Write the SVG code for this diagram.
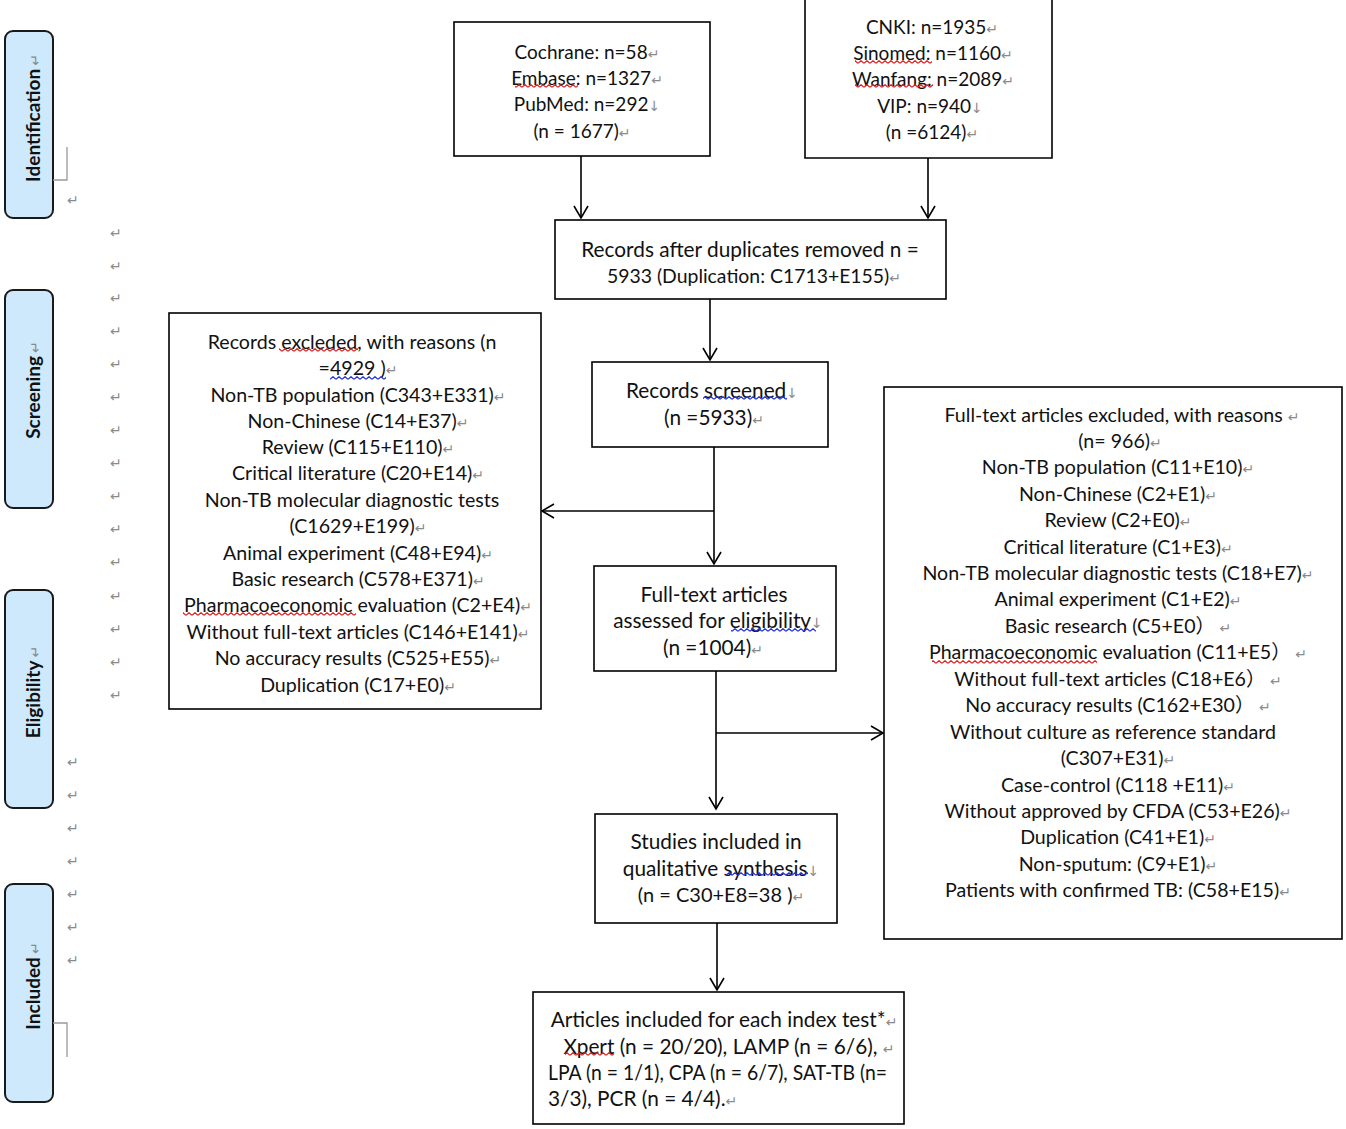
<svg xmlns="http://www.w3.org/2000/svg" width="1346" height="1129" viewBox="0 0 1346 1129">
<style>
.box{fill:#fff;stroke:#000;stroke-width:1.6}
.stage{fill:#cde9fb;stroke:#1a1a1a;stroke-width:2}
.t{font-family:Lato,"Noto Sans","Noto Sans CJK SC",sans-serif;font-size:19.6px;fill:#111;text-anchor:middle}
.tt{font-size:19px}
.tm{font-size:20.8px}
.tl{text-anchor:start}
.st{font-family:Lato,"Noto Sans",sans-serif;font-size:19px;font-weight:bold;fill:#111;text-anchor:middle}
.pm{font-family:"DejaVu Sans",sans-serif;font-size:14px;fill:#8a8a8a;font-weight:normal}
.pmx{font-family:"DejaVu Sans",sans-serif;font-size:14px;fill:#8a8a8a}
.br{fill:none;stroke:#999;stroke-width:1.3}
.con{fill:none;stroke:#000;stroke-width:1.6}
</style>
<defs>
<marker id="ah" markerUnits="userSpaceOnUse" markerWidth="20" markerHeight="20" viewBox="-14 -10 16 20" refX="0" refY="0" orient="auto">
<path d="M-12,-7 L0,0 L-12,7" fill="none" stroke="#000" stroke-width="1.6"/>
</marker>
<pattern id="wr" width="6" height="4" patternUnits="userSpaceOnUse"><path d="M0,3.3 L3,0.7 L6,3.3" fill="none" stroke="#e02020" stroke-width="1.2"/></pattern>
<pattern id="wb" width="6" height="4" patternUnits="userSpaceOnUse"><path d="M0,3.3 L3,0.7 L6,3.3" fill="none" stroke="#2030e0" stroke-width="1.2"/></pattern>
</defs>

<g id="stages">
<g id="stage-identification"><rect class="stage" x="5" y="31" width="48" height="187" rx="8"/><text class="st" transform="translate(40,118) rotate(-90)">Identification<tspan class="pm" dx="3">↵</tspan></text></g>
<g id="stage-screening"><rect class="stage" x="5" y="290" width="48" height="218" rx="8"/><text class="st" transform="translate(40,390) rotate(-90)">Screening<tspan class="pm" dx="3">↵</tspan></text></g>
<g id="stage-eligibility"><rect class="stage" x="5" y="590" width="48" height="218" rx="8"/><text class="st" transform="translate(40,692) rotate(-90)">Eligibility<tspan class="pm" dx="3">↵</tspan></text></g>
<g id="stage-included"><rect class="stage" x="5" y="884" width="48" height="218" rx="8"/><text class="st" transform="translate(40,986) rotate(-90)">Included<tspan class="pm" dx="3">↵</tspan></text></g>
<path class="br" d="M53,180 H67 V147"/>
<path class="br" d="M53,1023 H67 V1057"/>
</g>

<g id="marks">
<text class="pmx" x="67" y="205">↵</text>
<text class="pmx" x="110" y="238">↵</text>
<text class="pmx" x="110" y="271">↵</text>
<text class="pmx" x="110" y="303">↵</text>
<text class="pmx" x="110" y="336">↵</text>
<text class="pmx" x="110" y="369">↵</text>
<text class="pmx" x="110" y="402">↵</text>
<text class="pmx" x="110" y="435">↵</text>
<text class="pmx" x="110" y="468">↵</text>
<text class="pmx" x="110" y="501">↵</text>
<text class="pmx" x="110" y="534">↵</text>
<text class="pmx" x="110" y="567">↵</text>
<text class="pmx" x="110" y="601">↵</text>
<text class="pmx" x="110" y="634">↵</text>
<text class="pmx" x="110" y="667">↵</text>
<text class="pmx" x="110" y="700">↵</text>
<text class="pmx" x="67" y="767">↵</text>
<text class="pmx" x="67" y="800">↵</text>
<text class="pmx" x="67" y="833">↵</text>
<text class="pmx" x="67" y="866">↵</text>
<text class="pmx" x="67" y="899">↵</text>
<text class="pmx" x="67" y="932">↵</text>
<text class="pmx" x="67" y="965">↵</text>
</g>

<g id="connectors">
<path class="con" d="M581,156 V218" marker-end="url(#ah)"/>
<path class="con" d="M928,158 V218" marker-end="url(#ah)"/>
<path class="con" d="M710,299 V360" marker-end="url(#ah)"/>
<path class="con" d="M714,447 V564" marker-end="url(#ah)"/>
<path class="con" d="M714,511 H542" marker-end="url(#ah)"/>
<path class="con" d="M716,671 V809" marker-end="url(#ah)"/>
<path class="con" d="M716,733 H883" marker-end="url(#ah)"/>
<path class="con" d="M717,923 V990" marker-end="url(#ah)"/>
</g>

<g id="node-western">
<rect class="box" x="454" y="22" width="256" height="134"/>
<text class="t tt" x="587" y="59">Cochrane: n=58<tspan class="pm">↵</tspan></text>
<text class="t tt" x="587" y="85">Embase: n=1327<tspan class="pm">↵</tspan></text>
<text class="t tt" x="587" y="111">PubMed: n=292<tspan class="pm">↓</tspan></text>
<text class="t tt" x="582" y="138">(n = 1677)<tspan class="pm">↵</tspan></text>
</g>

<g id="node-chinese">
<path class="box" d="M805,-3 V158 H1052 V-3"/>
<text class="t tt" x="932" y="34">CNKI: n=1935<tspan class="pm">↵</tspan></text>
<text class="t tt" x="933" y="60">Sinomed: n=1160<tspan class="pm">↵</tspan></text>
<text class="t tt" x="933" y="86">Wanfang: n=2089<tspan class="pm">↵</tspan></text>
<text class="t tt" x="930" y="113">VIP: n=940<tspan class="pm">↓</tspan></text>
<text class="t tt" x="932" y="139">(n =6124)<tspan class="pm">↵</tspan></text>
</g>

<g id="node-dedup">
<rect class="box" x="555" y="220" width="391" height="79"/>
<text class="t tm" x="750" y="257">Records after duplicates removed n =</text>
<text class="t" x="754" y="283" style="font-size:19.4px">5933 (Duplication: C1713+E155)<tspan class="pm">↵</tspan></text>
</g>

<g id="node-screened">
<rect class="box" x="592" y="362" width="236" height="85"/>
<text class="t tm" x="712" y="398">Records screened<tspan class="pm">↓</tspan></text>
<text class="t tm" x="714" y="425">(n =5933)<tspan class="pm">↵</tspan></text>
</g>

<g id="node-excluded-records">
<rect class="box" x="169" y="313" width="372" height="396"/>
<text class="t" x="352" y="349">Records excleded, with reasons (n</text>
<text class="t" x="358" y="375">=4929 )<tspan class="pm">↵</tspan></text>
<text class="t" x="358" y="402">Non-TB population (C343+E331)<tspan class="pm">↵</tspan></text>
<text class="t" x="358" y="428">Non-Chinese (C14+E37)<tspan class="pm">↵</tspan></text>
<text class="t" x="358" y="454">Review (C115+E110)<tspan class="pm">↵</tspan></text>
<text class="t" x="358" y="480">Critical literature (C20+E14)<tspan class="pm">↵</tspan></text>
<text class="t" x="352" y="507">Non-TB molecular diagnostic tests</text>
<text class="t" x="358" y="533">(C1629+E199)<tspan class="pm">↵</tspan></text>
<text class="t" x="358" y="560">Animal experiment (C48+E94)<tspan class="pm">↵</tspan></text>
<text class="t" x="358" y="586">Basic research (C578+E371)<tspan class="pm">↵</tspan></text>
<text class="t" x="358" y="612">Pharmacoeconomic evaluation (C2+E4)<tspan class="pm">↵</tspan></text>
<text class="t" x="358" y="639">Without full-text articles (C146+E141)<tspan class="pm">↵</tspan></text>
<text class="t" x="358" y="665">No accuracy results (C525+E55)<tspan class="pm">↵</tspan></text>
<text class="t" x="358" y="692">Duplication (C17+E0)<tspan class="pm">↵</tspan></text>
</g>

<g id="node-fulltext">
<rect class="box" x="594" y="566" width="242" height="105"/>
<text class="t tm" x="714" y="602">Full-text articles</text>
<text class="t tm" x="718" y="628">assessed for eligibility<tspan class="pm">↓</tspan></text>
<text class="t tm" x="713" y="655">(n =1004)<tspan class="pm">↵</tspan></text>
</g>

<g id="node-excluded-fulltext">
<rect class="box" x="884" y="387" width="458" height="552"/>
<text class="t" x="1122" y="422">Full-text articles excluded, with reasons <tspan class="pm">↵</tspan></text>
<text class="t" x="1120" y="448">(n= 966)<tspan class="pm">↵</tspan></text>
<text class="t" x="1118" y="474">Non-TB population (C11+E10)<tspan class="pm">↵</tspan></text>
<text class="t" x="1118" y="501">Non-Chinese (C2+E1)<tspan class="pm">↵</tspan></text>
<text class="t" x="1118" y="527">Review (C2+E0)<tspan class="pm">↵</tspan></text>
<text class="t" x="1118" y="554">Critical literature (C1+E3)<tspan class="pm">↵</tspan></text>
<text class="t" x="1118" y="580">Non-TB molecular diagnostic tests (C18+E7)<tspan class="pm">↵</tspan></text>
<text class="t" x="1118" y="606">Animal experiment (C1+E2)<tspan class="pm">↵</tspan></text>
<text class="t" x="1118" y="633">Basic research (C5+E0）<tspan class="pm"> ↵</tspan></text>
<text class="t" x="1118" y="659">Pharmacoeconomic evaluation (C11+E5）<tspan class="pm"> ↵</tspan></text>
<text class="t" x="1118" y="686">Without full-text articles (C18+E6）<tspan class="pm"> ↵</tspan></text>
<text class="t" x="1118" y="712">No accuracy results (C162+E30）<tspan class="pm"> ↵</tspan></text>
<text class="t" x="1113" y="739">Without culture as reference standard</text>
<text class="t" x="1118" y="765">(C307+E31)<tspan class="pm">↵</tspan></text>
<text class="t" x="1118" y="792">Case-control (C118 +E11)<tspan class="pm">↵</tspan></text>
<text class="t" x="1118" y="818">Without approved by CFDA (C53+E26)<tspan class="pm">↵</tspan></text>
<text class="t" x="1118" y="844">Duplication (C41+E1)<tspan class="pm">↵</tspan></text>
<text class="t" x="1118" y="871">Non-sputum: (C9+E1)<tspan class="pm">↵</tspan></text>
<text class="t" x="1118" y="897">Patients with confirmed TB: (C58+E15)<tspan class="pm">↵</tspan></text>
</g>

<g id="node-studies">
<rect class="box" x="595" y="814" width="242" height="109"/>
<text class="t tm" x="716" y="849">Studies included in</text>
<text class="t tm" x="721" y="876">qualitative synthesis<tspan class="pm">↓</tspan></text>
<text class="t" x="721" y="902" style="font-size:20px">(n = C30+E8=38 )<tspan class="pm">↵</tspan></text>
</g>

<g id="node-articles">
<rect class="box" x="533" y="992" width="371" height="132"/>
<text class="t tm" x="724" y="1027">Articles included for each index test*<tspan class="pm">↵</tspan></text>
<text class="t tm" x="729" y="1054">Xpert (n = 20/20), LAMP (n = 6/6), <tspan class="pm">↵</tspan></text>
<text class="t tm tl" x="548" y="1080" textLength="339" lengthAdjust="spacingAndGlyphs">LPA (n = 1/1), CPA (n = 6/7), SAT-TB (n=</text>
<text class="t tm tl" x="548" y="1106">3/3), PCR (n = 4/4).<tspan class="pm">↵</tspan></text>
</g>

<g id="spelling">
<rect fill="url(#wr)" x="515" y="84" width="63" height="4"/>
<rect fill="url(#wr)" x="855" y="60" width="77" height="4"/>
<rect fill="url(#wr)" x="855" y="84" width="78" height="4"/>
<rect fill="url(#wr)" x="279" y="348" width="79" height="4"/>
<rect fill="url(#wb)" x="330" y="376" width="56" height="4"/>
<rect fill="url(#wr)" x="183" y="612" width="173" height="4"/>
<rect fill="url(#wb)" x="703" y="396" width="84" height="4"/>
<rect fill="url(#wb)" x="731" y="628" width="85" height="4"/>
<rect fill="url(#wb)" x="726" y="872" width="82" height="4"/>
<rect fill="url(#wr)" x="565" y="1052" width="49" height="4"/>
<rect fill="url(#wr)" x="932" y="660" width="165" height="4"/>
</g>
</svg>
